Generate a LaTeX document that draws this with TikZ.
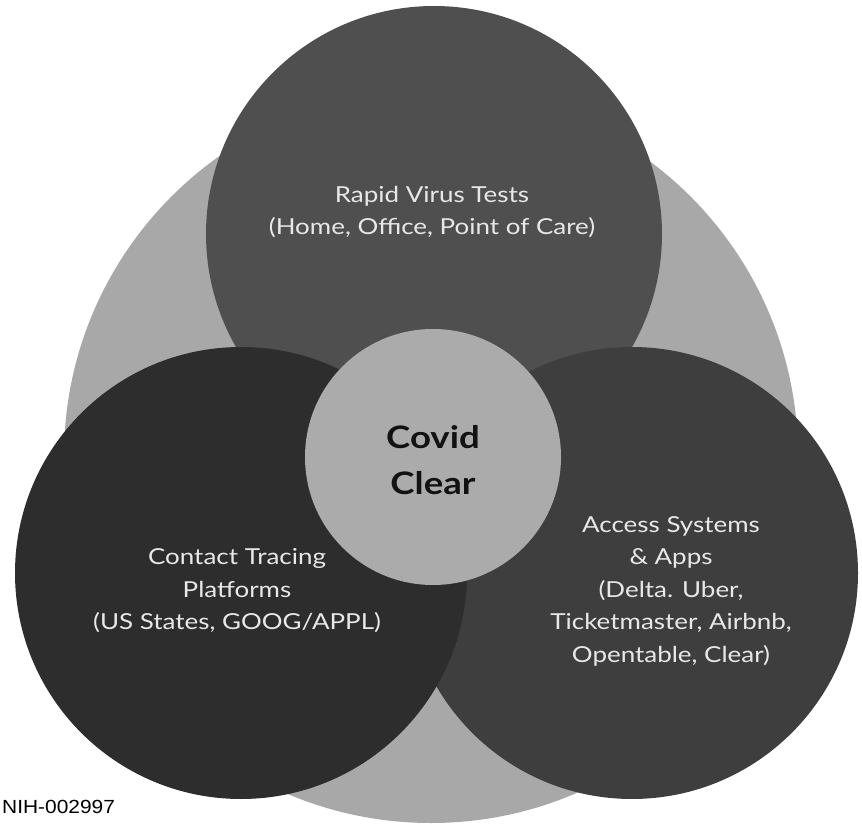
\documentclass[tikz,border=0pt]{standalone}
\usepackage{fontspec}
\setmainfont{Lato}
\newfontfamily\widefont[FakeStretch=1.18]{Lato}
\newfontfamily\nihfont[FakeStretch=1.1]{Liberation Sans}
\definecolor{bgc}{gray}{0.66}
\definecolor{topc}{gray}{0.31}
\definecolor{rightc}{gray}{0.245}
\definecolor{leftc}{gray}{0.178}
\definecolor{centc}{gray}{0.67}
\definecolor{labc}{gray}{0.91}
\definecolor{darktxt}{gray}{0.07}
\begin{document}
\begin{tikzpicture}[x=1pt,y=-1pt,
  disc/.style={circle, inner sep=0pt, draw=none},
  lbl/.style={text=labc, font=\widefont\fontsize{22}{32.5}\selectfont, align=center, inner sep=0pt},
  midlbl/.style={text=darktxt, font=\widefont\fontsize{31}{46}\selectfont\bfseries, align=center, inner sep=0pt}]
\useasboundingbox (0,0) rectangle (862,826);
\fill[white] (0,0) rectangle (862,826);
\node[disc, fill=bgc, minimum size=734pt] (bg) at (431,456) {};
\node[disc, fill=topc, minimum size=456pt] (topdisc) at (434,234) {};
\node[disc, fill=rightc, minimum size=452pt] (rightdisc) at (632,573) {};
\node[disc, fill=leftc, minimum size=452pt] (leftdisc) at (241,573) {};
\node[disc, fill=centc, minimum size=256pt] (centdisc) at (433,457) {};
\node[lbl] (toplbl) at (432,212) {Rapid Virus Tests\\(Home, Office, Point of Care)};
\node[lbl] (leftlbl) at (237,591) {Contact Tracing\\Platforms\\(US States, GOOG/APPL)};
\node[lbl] (rightlbl) at (671,591) {Access Systems\\\&~Apps\\(Delta. Uber,\\Ticketmaster, Airbnb,\\Opentable, Clear)};
\node[midlbl] (midlbl) at (433,460) {Covid\\Clear};
\node[anchor=west, inner sep=0pt, text=black, font=\nihfont\fontsize{19}{22}\selectfont] (nih) at (2,807) {NIH-002997};
\end{tikzpicture}
\end{document}
